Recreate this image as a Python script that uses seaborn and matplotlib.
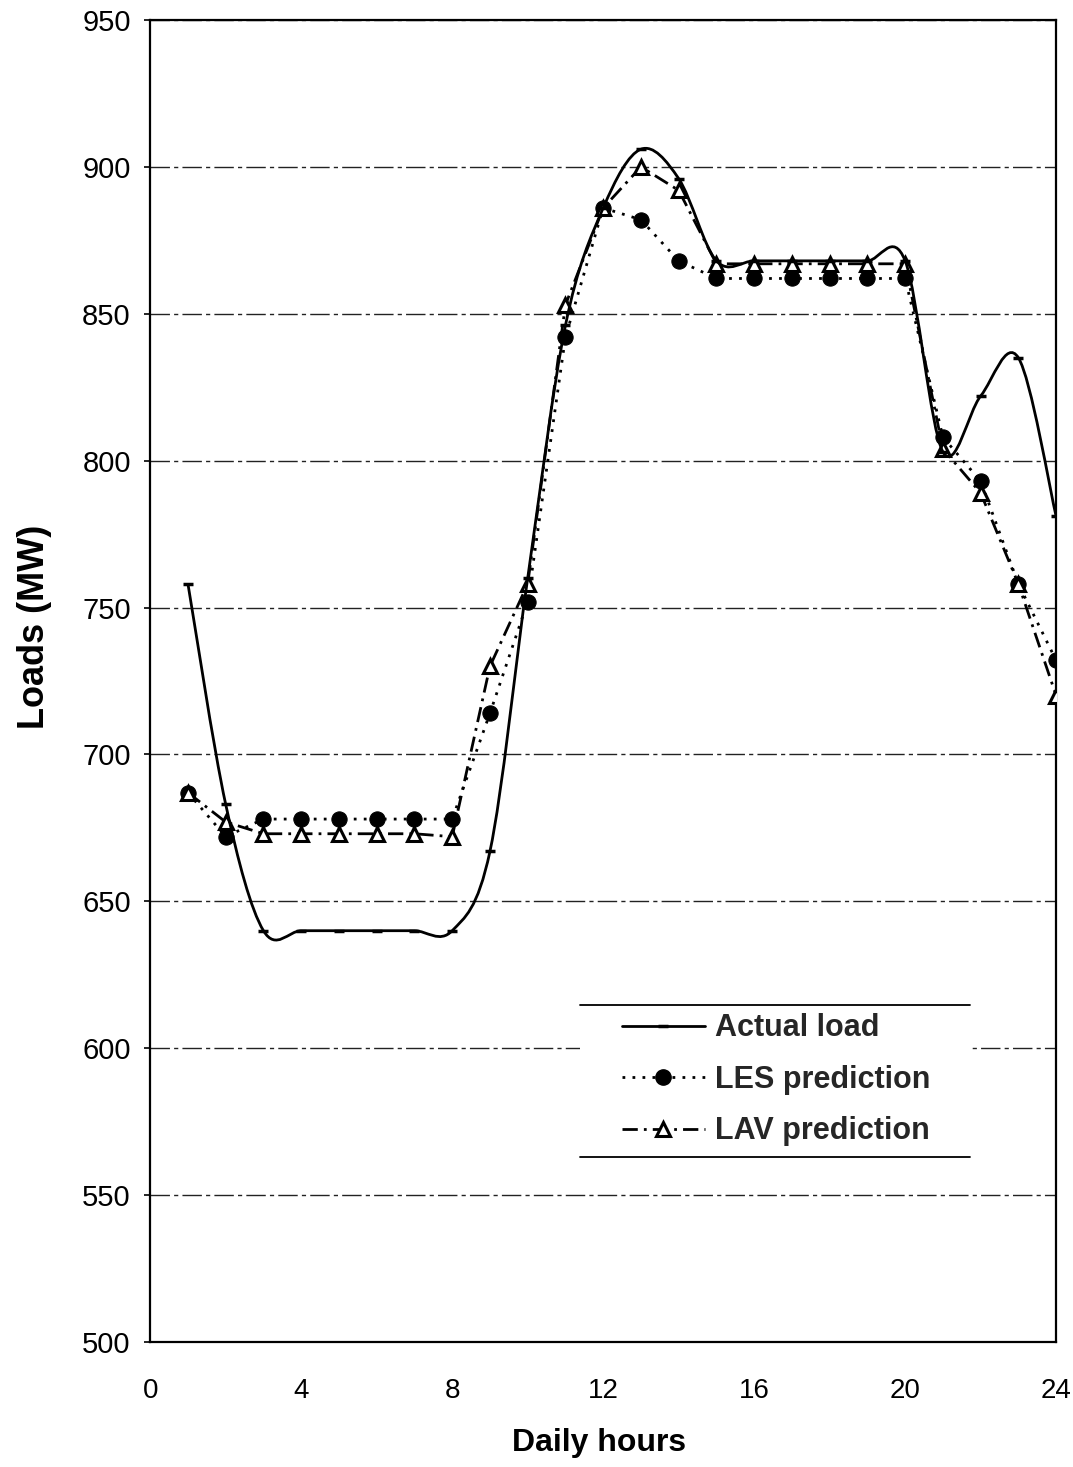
import numpy as np
import pandas as pd
import matplotlib
matplotlib.use("Agg")
import matplotlib.pyplot as plt
import seaborn as sns
from matplotlib.path import Path
from matplotlib.patches import PathPatch, Rectangle
from matplotlib.lines import Line2D

# ---------------- data ----------------
hours = list(range(1, 25))
actual_load = [758, 683, 640, 640, 640, 640, 640, 640, 667, 760, 846, 886,
               906, 896, 868, 868, 868, 868, 868, 868, 803, 822, 835, 781]
les_pred = [687, 672, 678, 678, 678, 678, 678, 678, 714, 752, 842, 886,
            882, 868, 862, 862, 862, 862, 862, 862, 808, 793, 758, 732]
lav_pred = [687, 677, 673, 673, 673, 673, 673, 672, 730, 758, 853, 886,
            900, 892, 867, 867, 867, 867, 867, 867, 804, 789, 758, 720]
series_labels = ["Actual load", "LES prediction", "LAV prediction"]
x_ticks = [0, 4, 8, 12, 16, 20, 24]
y_ticks = [500, 550, 600, 650, 700, 750, 800, 850, 900, 950]

df = pd.DataFrame({"hour": hours, "actual": actual_load,
                   "les": les_pred, "lav": lav_pred})

# ---------------- style ----------------
sns.set_theme(style="white")
plt.rcParams["font.family"] = ["Liberation Sans", "DejaVu Sans"]

fig = plt.figure(figsize=(10.73, 14.67), dpi=100)
ax = fig.add_axes([0.140, 0.0852, 0.8443, 0.9012])


def smooth_path(x, y):
    """Excel-like smoothed line: Catmull-Rom segments as cubic Bezier curves."""
    x = np.asarray(x, float)
    y = np.asarray(y, float)
    n = len(x)
    verts = [(x[0], y[0])]
    codes = [Path.MOVETO]
    for i in range(n - 1):
        p0 = i - 1 if i > 0 else i
        p3 = i + 2 if i + 2 < n else i + 1
        c1 = (x[i] + (x[i + 1] - x[p0]) / 6, y[i] + (y[i + 1] - y[p0]) / 6)
        c2 = (x[i + 1] - (x[p3] - x[i]) / 6, y[i + 1] - (y[p3] - y[i]) / 6)
        verts += [c1, c2, (x[i + 1], y[i + 1])]
        codes += [Path.CURVE4] * 3
    return Path(verts, codes)


dot_style = (0, (1.0, 2.6))
dashdot_style = (0, (5.5, 2.2, 1.0, 2.2))

# LES prediction
sns.lineplot(data=df, x="hour", y="les", ax=ax, color="black", lw=2.0,
             marker="o", markersize=11, markeredgecolor="black",
             markerfacecolor="black", estimator=None, zorder=3)
ax.lines[-1].set_linestyle(dot_style)

# LAV prediction
sns.lineplot(data=df, x="hour", y="lav", ax=ax, color="black", lw=2.0,
             marker="^", markersize=10, markeredgecolor="black",
             markerfacecolor="white", markeredgewidth=2.2,
             estimator=None, zorder=3.5)
ax.lines[-1].set_linestyle(dashdot_style)

# Actual load: smoothed line + small dash markers
ax.add_patch(PathPatch(smooth_path(df["hour"], df["actual"]),
                       facecolor="none", edgecolor="black", lw=2.0, zorder=4))
sns.lineplot(data=df, x="hour", y="actual", ax=ax, color="black",
             marker="_", markersize=7, markeredgewidth=2.5,
             markeredgecolor="black", estimator=None, zorder=4.5)
ax.lines[-1].set_linestyle("none")

# ---------------- axes ----------------
ax.set_xlim(0, 24)
ax.set_ylim(500, 950)
ax.set_xticks(x_ticks)
ax.set_yticks(y_ticks)
ax.grid(axis="y", color="#222222", lw=1.0, linestyle=(0, (14, 3, 3, 3)), zorder=0)
ax.grid(axis="x", visible=False)
ax.set_axisbelow(True)
for s in ax.spines.values():
    s.set_visible(True)
    s.set_color("black")
    s.set_linewidth(1.6)

ax.tick_params(axis="y", which="both", left=True, length=4, width=1.2,
               direction="out", color="black", pad=10, labelsize=21,
               labelcolor="black")
ax.tick_params(axis="x", which="both", bottom=False, length=0, pad=26,
               labelsize=20, labelcolor="black")

ax.set_xlabel("Daily hours", fontsize=23, fontweight="bold", color="black")
ax.set_ylabel("Loads (MW)", fontsize=26, fontweight="bold", color="black")
ax.xaxis.set_label_coords(0.495, -0.065)
ax.yaxis.set_label_coords(-0.108, 0.541)

# ---------------- legend ----------------
ax.add_patch(Rectangle((0.4746, 0.140), 0.4304, 0.115, transform=ax.transAxes,
                       facecolor="white", edgecolor="none", zorder=5))
for yy in (0.255, 0.140):
    ax.add_line(Line2D([0.4746, 0.905], [yy, yy], transform=ax.transAxes,
                       color="black", lw=1.3, zorder=6))

handles = [
    Line2D([], [], color="black", lw=2.0, marker="_", markersize=7,
           markeredgewidth=2.5),
    Line2D([], [], color="black", lw=2.0, linestyle=dot_style, marker="o",
           markersize=11),
    Line2D([], [], color="black", lw=2.0, linestyle=dashdot_style, marker="^",
           markersize=10, markerfacecolor="white", markeredgewidth=2.2),
]
leg = ax.legend(handles, series_labels, loc="upper left",
                bbox_to_anchor=(0.521, 0.2485), frameon=False,
                prop={"size": 22, "weight": "bold"},
                handlelength=2.7, handletextpad=0.35, labelspacing=0.7,
                borderpad=0, borderaxespad=0)
leg.set_zorder(7)

fig.savefig("out.png", dpi=100, facecolor="white")
